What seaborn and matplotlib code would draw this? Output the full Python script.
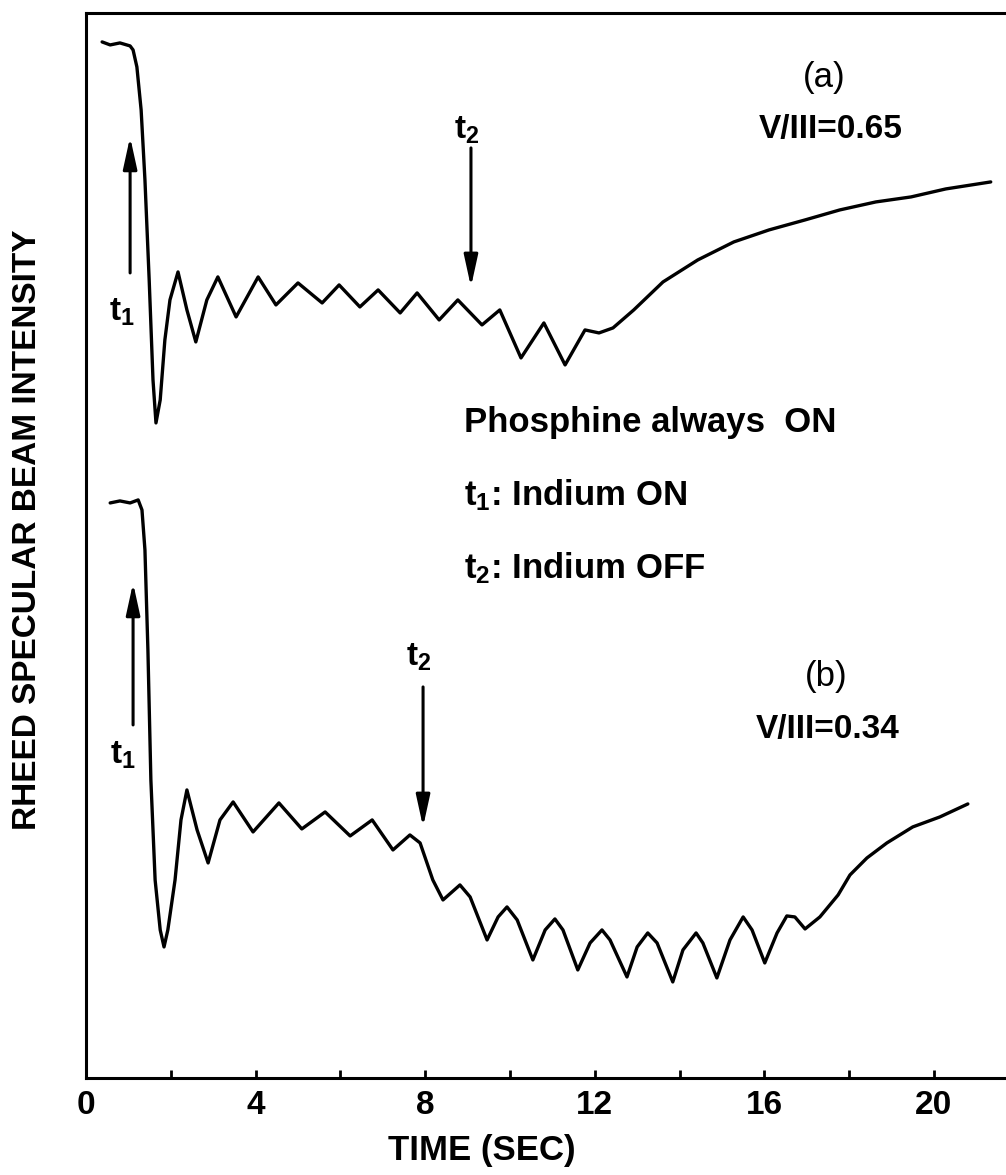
import matplotlib
matplotlib.use("Agg")
import matplotlib.pyplot as plt
import seaborn as sns

# ---- data (time in s, intensity in arbitrary units) ----
time_a = [0.38, 0.57, 0.80, 1.04, 1.11, 1.20, 1.30, 1.39, 1.49, 1.58, 1.65, 1.75, 1.86, 1.98,
          2.17, 2.38, 2.59, 2.85, 3.11, 3.54, 4.06, 4.48, 5.00, 5.57, 5.97, 6.46, 6.89, 7.41,
          7.81, 8.33, 8.77, 9.34, 9.76, 10.26, 10.80, 11.30, 11.77, 12.10, 12.43, 12.92,
          13.61, 14.43, 15.28, 16.11, 16.96, 17.78, 18.63, 19.46, 20.28, 21.34]
intensity_a = [103.4, 103.1, 103.3, 103.0, 102.6, 100.9, 96.6, 89.6, 79.6, 69.6, 65.3, 67.6, 73.6, 77.6,
               80.4, 76.6, 73.4, 77.6, 79.9, 75.9, 79.9, 77.1, 79.3, 77.3, 79.1, 76.9, 78.6, 76.3,
               78.3, 75.6, 77.6, 75.1, 76.6, 71.8, 75.3, 71.1, 74.6, 74.3, 74.8, 76.6,
               79.4, 81.6, 83.4, 84.6, 85.6, 86.6, 87.4, 87.9, 88.7, 89.4]

time_b = [0.57, 0.80, 1.04, 1.23, 1.32, 1.39, 1.46, 1.53, 1.63, 1.75, 1.84, 1.93, 2.10, 2.24,
          2.38, 2.62, 2.88, 3.16, 3.47, 3.94, 4.55, 5.09, 5.64, 6.23, 6.75, 7.24, 7.64, 7.88,
          8.18, 8.42, 8.82, 9.06, 9.46, 9.72, 9.93, 10.17, 10.54, 10.83, 11.06, 11.25,
          11.60, 11.89, 12.17, 12.36, 12.76, 13.00, 13.25, 13.47, 13.84, 14.08, 14.39,
          14.55, 14.88, 15.19, 15.50, 15.71, 16.01, 16.30, 16.53, 16.72, 16.96, 17.31,
          17.74, 18.02, 18.42, 18.89, 19.50, 20.14, 20.80]
intensity_b = [57.3, 57.5, 57.3, 57.6, 56.6, 52.6, 42.6, 29.6, 19.6, 14.6, 12.9, 14.6, 19.6, 25.6,
               28.6, 24.6, 21.3, 25.6, 27.4, 24.4, 27.3, 24.7, 26.4, 24.0, 25.6, 22.6, 24.1, 23.3,
               19.6, 17.6, 19.1, 17.9, 13.6, 15.9, 16.9, 15.6, 11.6, 14.6, 15.7, 14.6,
               10.6, 13.3, 14.6, 13.6, 9.9, 12.9, 14.3, 13.3, 9.4, 12.6, 14.3,
               13.3, 9.8, 13.6, 15.9, 14.6, 11.3, 14.3, 16.0, 15.9, 14.7, 15.9,
               18.1, 20.1, 21.8, 23.3, 24.9, 25.9, 27.2]

xtick_major = [0, 4, 8, 12, 16, 20]
xtick_minor = [2, 6, 10, 14, 18]

# ---- style ----
sns.set_theme(style="white")
plt.rcParams["font.family"] = ["Liberation Sans", "DejaVu Sans"]
plt.rcParams["text.color"] = "black"
plt.rcParams["axes.labelcolor"] = "black"
plt.rcParams["xtick.color"] = "black"
plt.rcParams["mathtext.fontset"] = "custom"
plt.rcParams["mathtext.rm"] = "Liberation Sans:bold"
plt.rcParams["mathtext.bf"] = "Liberation Sans:bold"
plt.rcParams["mathtext.it"] = "Liberation Sans:bold"

fig = plt.figure(figsize=(10.06, 11.75), dpi=100)
ax = fig.add_axes([0.0855, 0.0826, 0.9145, 0.9064])

lw = 2.4
sns.lineplot(x=time_a, y=intensity_a, ax=ax, color="black", lw=lw, estimator=None, sort=False,
             solid_joinstyle="round")
sns.lineplot(x=time_b, y=intensity_b, ax=ax, color="black", lw=lw, estimator=None, sort=False,
             solid_joinstyle="round")

ax.set_xlim(0, 21.7)
ax.set_ylim(-0.2, 106.3)

for side in ["left", "bottom", "top"]:
    ax.spines[side].set_visible(True)
    ax.spines[side].set_color("black")
    ax.spines[side].set_linewidth(2.2)
ax.spines["right"].set_visible(False)

ax.set_xticks(xtick_major)
ax.set_xticks(xtick_minor, minor=True)
ax.set_yticks([])
ax.tick_params(axis="x", which="both", direction="in", length=6, width=2, color="black",
               bottom=True, top=False, pad=9)
ax.tick_params(axis="x", which="major", labelsize=24, labelcolor="black")
for lab in ax.get_xticklabels():
    lab.set_fontweight("bold")

ax.set_xlabel("TIME (SEC)", fontsize=25, fontweight="bold")
ax.xaxis.set_label_coords(0.43, -0.053)
ax.xaxis.label.set_va("top")
ax.set_ylabel("RHEED SPECULAR BEAM INTENSITY", fontsize=24, fontweight="bold")
ax.yaxis.set_label_coords(-0.047, 0.515)

# ---- arrows & markers ----
arrow_kw = dict(arrowstyle="-|>,head_length=1.6,head_width=0.35", color="black", lw=2.2,
                shrinkA=0, shrinkB=0)
ax.annotate("", xy=(1.04, 93.9), xytext=(1.04, 80.3), arrowprops=arrow_kw)
ax.annotate("", xy=(9.08, 78.9), xytext=(9.08, 92.8), arrowprops=arrow_kw)
ax.annotate("", xy=(1.11, 49.3), xytext=(1.11, 35.1), arrowprops=arrow_kw)
ax.annotate("", xy=(7.95, 24.9), xytext=(7.95, 38.9), arrowprops=arrow_kw)

t1 = r"$\mathrm{t}_{\mathrm{1}}$"
t2 = r"$\mathrm{t}_{\mathrm{2}}$"
tlab = dict(fontsize=24, ha="center", va="center", color="black")
ax.text(0.85, 76.4, t1, **tlab)
ax.text(8.99, 94.6, t2, **tlab)
ax.text(0.87, 32.1, t1, **tlab)
ax.text(7.85, 41.9, t2, **tlab)

ax.text(17.41, 99.8, "(a)", fontsize=25, ha="center", va="center")
ax.text(17.57, 94.6, "V/III=0.65", fontsize=24, fontweight="bold", ha="center", va="center")
ax.text(17.45, 39.9, "(b)", fontsize=25, ha="center", va="center")
ax.text(17.50, 34.6, "V/III=0.34", fontsize=24, fontweight="bold", ha="center", va="center")

ax.text(8.92, 64.4, "Phosphine always  ON", fontsize=25, fontweight="bold", ha="left", va="baseline")
ax.text(8.92, 57.1, t1 + ": Indium ON", fontsize=25, fontweight="bold", ha="left", va="baseline")
ax.text(8.92, 49.8, t2 + ": Indium OFF", fontsize=25, fontweight="bold", ha="left", va="baseline")

fig.savefig("out.png", dpi=100, facecolor="white")
